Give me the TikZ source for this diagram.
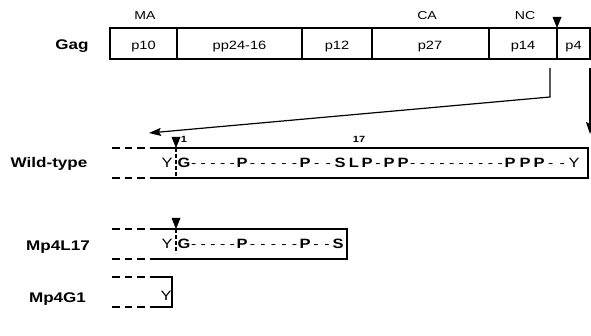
\documentclass[tikz,border=0pt]{standalone}
\usepackage{fontspec}
\setmainfont[FakeStretch=1.22]{Liberation Sans}
\usetikzlibrary{arrows.meta}

\tikzset{
  rowlabel/.style={font=\bfseries\fontsize{14}{15}\selectfont, inner sep=0pt, anchor=base},
  seglabel/.style={font=\fontsize{12}{13}\selectfont, inner sep=0pt, anchor=base},
  domlabel/.style={font=\fontsize{11.5}{12}\selectfont, inner sep=0pt, anchor=base},
  numlabel/.style={font=\bfseries\fontsize{9}{10}\selectfont, inner sep=0pt, anchor=base},
  resb/.style={font=\bfseries\fontsize{13.5}{14}\selectfont, inner sep=0pt, anchor=base},
  resr/.style={font=\fontsize{13.5}{14}\selectfont, inner sep=0pt, anchor=base},
  resd/.style={font=\fontsize{13}{14}\selectfont, inner sep=0pt, anchor=base},
  boxline/.style={line width=1.2pt},
  openend/.style={line width=1.2pt, dash pattern=on 7.5pt off 5pt},
  cutline/.style={line width=1.1pt, dash pattern=on 4pt off 2pt},
  cleave/.style={fill=black, draw=none},
  link/.style={line width=1.2pt, -{Stealth[length=12pt,width=8pt,inset=2pt]}},
}

% evenly spaced hyphens between two residues: y, x-from, x-to, count
\newcommand\hyphenrun[4]{%
  \foreach \i in {1,...,#4}
    \node[resd] (h-#1-#2-\i) at ({#2+\i*(#3-#2)/(#4+1)},#1) {-};%
}
% cleavage mark: apex x, apex y
\newcommand\cutmark[2]{%
  \fill[cleave] (#1,#2) -- (#1-4.5,#2-11) -- (#1+4.5,#2-11) -- cycle;%
}

\begin{document}
\begin{tikzpicture}[x=1pt,y=-1pt]
\useasboundingbox (0,0) rectangle (591,336);

% ---------------- Gag precursor ----------------
\node[rowlabel] (gag) at (72,50) {Gag};
\draw[boxline] (110,28) rectangle (590,59);
\foreach \xd in {177,302,372,489,557}
  \draw[boxline] (\xd,27) -- (\xd,59);
\node[seglabel] (p10)  at (143.5,50) {p10};
\node[seglabel] (pp24) at (239.5,50) {pp24-16};
\node[seglabel] (p12)  at (337,50)   {p12};
\node[seglabel] (p27)  at (430,50)   {p27};
\node[seglabel] (p14)  at (523,50)   {p14};
\node[seglabel] (p4)   at (573.5,50) {p4};
\node[domlabel] (ma) at (145,20) {MA};
\node[domlabel] (ca) at (427,20) {CA};
\node[domlabel] (nc) at (525,20) {NC};
\cutmark{557}{28}

% connectors from the p14/p4 region down to the wild-type p4
\coordinate (nctail) at (550,68);
\coordinate (ncbend) at (550,97);
\coordinate (wthead) at (149,133);
\coordinate (p4tail) at (590,68);
\coordinate (p4head) at (590,134);
\draw[link] (nctail) -- (ncbend) -- (wthead);
\draw[link] (p4tail) -- (p4head);

% ---------------- Wild-type p4 ----------------
\node[rowlabel] (wt) at (49,168) {Wild-type};
\draw[openend] (112,148) -- (153,148);
\draw[openend] (112,178) -- (153,178);
\draw[boxline] (153,148) -- (588,148) -- (588,178) -- (153,178);
\draw[cutline] (176,148) -- (176,178);
\cutmark{176}{148}
\node[numlabel] (n1)  at (184,143) {1};
\node[numlabel] (n17) at (359,143) {17};
\foreach \x/\c in {184/G,242/P,305/P,340/S,354/L,367/P,389/P,403/P,510/P,525/P,539/P}
  \node[resb] (wt-\x) at (\x,168) {\c};
\node[resr] (wt-y1) at (167,168) {Y};
\node[resr] (wt-y2) at (574,168) {Y};
\hyphenrun{168}{184}{242}{5}
\hyphenrun{168}{242}{305}{5}
\hyphenrun{168}{305}{340}{2}
\hyphenrun{168}{367}{389}{1}
\hyphenrun{168}{403}{510}{10}
\hyphenrun{168}{539}{574}{2}

% ---------------- Mp4L17 ----------------
\node[rowlabel] (l17) at (58,251) {Mp4L17};
\draw[openend] (112,229) -- (153,229);
\draw[openend] (112,259) -- (153,259);
\draw[boxline] (153,229) -- (347,229) -- (347,259) -- (153,259);
\draw[cutline] (176,229) -- (176,253);
\cutmark{176}{229}
\foreach \x/\c in {184/G,242/P,305/P,338/S}
  \node[resb] (l17-\x) at (\x,249) {\c};
\node[resr] (l17-y) at (167,249) {Y};
\hyphenrun{249}{184}{242}{5}
\hyphenrun{249}{242}{305}{5}
\hyphenrun{249}{305}{338}{2}

% ---------------- Mp4G1 ----------------
\node[rowlabel] (g1) at (57.5,302) {Mp4G1};
\draw[openend] (112,277) -- (153,277);
\draw[openend] (112,307) -- (153,307);
\draw[boxline] (153,277) -- (172,277) -- (172,307) -- (153,307);
\node[resr] (g1-y) at (166,301) {Y};
\end{tikzpicture}
\end{document}
